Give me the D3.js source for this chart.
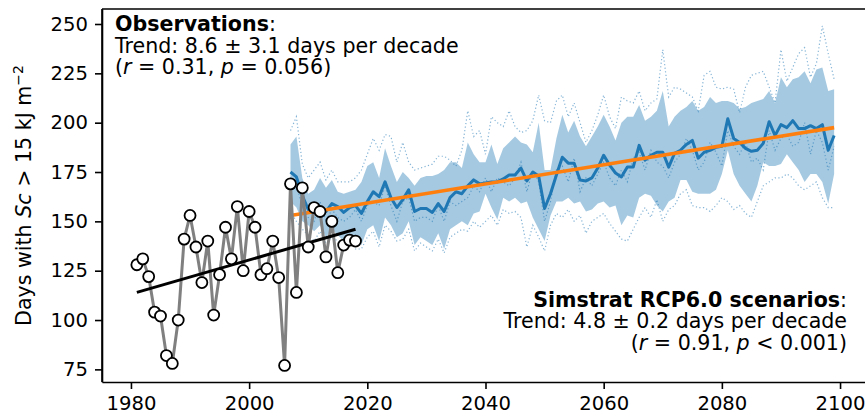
<!DOCTYPE html>
<head>
<meta charset="utf-8">
<script src="https://cdn.jsdelivr.net/npm/d3@7/dist/d3.min.js"></script>
<style>
body { margin: 0; background: #fff; }
svg { font-family: "DejaVu Sans", sans-serif; }
.axis path, .axis line { stroke: #000; stroke-width: 1.6; fill: none; }
.axis text { font-size: 19.6px; fill: #000; font-family: "DejaVu Sans", sans-serif; }
.note { font-size: 20.6px; fill: #000; }
</style>
</head>
<body>
<div id="chart"></div>
<script>

// observations (1981-2018)
var obsYears = d3.range(1981, 2019);
var obsDays = [128, 131, 122, 104, 102, 82, 78, 100, 141, 153,
               137, 119, 140, 102.5, 123, 147, 131, 157.5, 125, 155,
               147, 123, 126, 140, 121.5, 77, 169, 114, 167, 137,
               157, 155, 132, 150, 124, 138, 140.5, 140];
var obsTrend = [[1981, 114], [2018, 146]];

// Simstrat RCP6.0 scenarios (2007-2099)
var simYears = d3.range(2007, 2100);
var simMean = [175, 172.5, 163, 156, 155, 156, 155, 159, 157.5, 154.5, 157, 158, 154, 160, 165, 162.5, 170, 162, 157, 161,
               166, 155, 156.5, 156.5, 154.5, 159, 155, 162, 165, 164, 168, 171, 169,
               169.5, 170, 170, 171.5, 173.5, 173.5, 177, 170.5, 175, 173, 156.5, 164, 173.5, 182.5, 179.5, 179.5, 171, 170.5,
               172, 177, 183.5, 178.5, 174.5, 172.5, 177.5, 177.5, 188.5, 181, 183.5, 185, 185, 177.5,
               184.5, 186, 189, 191, 182, 185, 186, 187.5, 188, 202, 192, 190, 187, 185.5, 186, 189.5, 200.5, 193.5,
               199, 197.5, 201, 197, 197, 198.5, 197, 199, 186, 193.5];
var simUpper = [189, 193, 172, 164, 166, 172, 167, 171, 165, 164, 165, 166, 170, 178, 180, 172, 187, 178, 170, 175,
                172, 168, 172, 173, 173, 174, 176, 180, 180, 177, 190, 184, 180,
                180, 189, 179, 187, 190, 193, 190, 189, 185, 200, 176, 176, 192, 204, 195, 201, 193, 188,
                193, 198, 204, 198, 191, 200, 203, 203, 209, 201, 203, 206, 216, 198,
                203, 206, 208, 211, 206, 208, 213, 210, 211, 211, 210, 207, 208, 210, 211, 212, 216, 210,
                223, 218, 222, 223, 226, 220, 227, 228, 216, 217];
var simLower = [160, 157, 150, 148, 145, 148, 142, 146, 143, 140, 143, 140, 138, 146, 148, 140, 152, 148, 142, 144,
                150, 138, 142, 140, 138, 144, 136, 146, 148, 150, 148, 154, 155,
                164, 157, 151, 162, 160, 162, 159, 160, 152, 146, 140, 153, 160, 160, 162, 159, 160, 155,
                156, 159, 160, 157, 158, 148, 153, 152, 162, 164, 163, 158, 155, 160,
                162, 171, 171, 165, 164, 164, 164, 166, 174, 186, 174, 168, 164, 160, 168, 180, 178, 178,
                179, 184, 180, 176, 170, 174, 174, 170, 159, 174];
var simTrend = [[2007, 153], [2099, 197.5]];

// single members, dotted
var memberHigh = [196, 203, 179, 172, 176, 180, 171, 176, 170, 170, 170, 172, 176, 184, 192, 186, 194, 193, 180, 190,
                  180, 176, 177, 178, 179, 183, 183, 181, 178, 186, 206, 193, 196,
                  184, 203, 200, 198, 206, 198, 195, 196, 201, 214, 201, 200, 211, 214, 203, 210, 200, 190,
                  196, 204, 214, 203, 197, 213, 211, 210, 216, 206, 210, 212, 237, 213,
                  218, 217, 215, 213, 206, 224, 226, 218, 217, 218, 217, 205, 218, 224, 225, 226, 218, 210,
                  237, 221, 228, 235, 238, 223, 230, 249, 235, 222];
var memberLow = [155, 150, 146, 143, 140, 145, 139, 142, 140, 137, 140, 136, 136, 142, 145, 137, 148, 145, 140, 141,
                 146, 135, 139, 137, 135, 141, 134, 142, 144, 146, 145, 150, 147,
                 150, 153, 148, 156, 154, 155, 152, 137, 148, 142, 135, 148, 154, 152, 156, 150, 153, 144,
                 150, 152, 154, 149, 145, 141, 140, 146, 152, 157, 152, 161, 150, 156,
                 158, 164, 166, 158, 157, 157, 155, 158, 162, 160, 156, 158, 154, 152, 160, 168, 170, 172,
                 172, 174, 172, 168, 166, 168, 170, 162, 157, 157];
var memberMid = [172, 168, 158, 152, 150, 160, 150, 156, 152, 150, 152, 156, 150, 158,
                 160, 158, 168, 158, 150, 160, 162, 150, 152, 152, 150, 158, 150, 160, 158, 160, 162, 168, 165, 172,
                 165, 172, 170, 168, 172, 180, 165, 176, 170, 150, 160, 176, 178, 170, 182, 165, 172, 168, 174, 180,
                 172, 168, 176, 170, 182, 185, 176, 186, 180, 178, 172, 180, 184, 192, 186, 176, 180, 190, 185, 178,
                 196, 188, 184, 190, 180, 182, 176, 196, 186, 192, 194, 188, 190, 200, 184, 196, 190, 176, 188];

var xTicks = [1980, 2000, 2020, 2040, 2060, 2080, 2100];
var yTicks = [75, 100, 125, 150, 175, 200, 225, 250];

var W = 865, H = 418;
var plotLeft = 102, plotTop = 9, plotBottom = 382, plotRight = 869;

var x = d3.scaleLinear().domain([1975.1, 2104.9]).range([plotLeft, plotRight]);
var y = d3.scaleLinear().domain([68.6, 257.6]).range([plotBottom, plotTop]);

var svg = d3.select("#chart").append("svg")
    .attr("width", W)
    .attr("height", H);

var blue = "#1f77b4";

// band (mean +/- spread)
var sim = simYears.map(function(yr, i) {
  return {yr: yr, mean: simMean[i], lo: simLower[i], hi: simUpper[i]};
});

svg.append("path")
    .datum(sim)
    .attr("fill", blue)
    .attr("fill-opacity", 0.4)
    .attr("d", d3.area()
        .x(function(d) { return x(d.yr); })
        .y0(function(d) { return y(d.lo); })
        .y1(function(d) { return y(d.hi); }));

// dotted members
[memberHigh, memberLow, memberMid].forEach(function(m) {
  svg.append("path")
      .datum(m)
      .attr("fill", "none")
      .attr("stroke", blue)
      .attr("stroke-opacity", 0.55)
      .attr("stroke-width", 1.2)
      .attr("stroke-dasharray", "1.2,2.4")
      .attr("d", d3.line()
          .x(function(d, i) { return x(simYears[i]); })
          .y(function(d) { return y(d); }));
});

// mean
svg.append("path")
    .datum(sim)
    .attr("fill", "none")
    .attr("stroke", blue)
    .attr("stroke-width", 3)
    .attr("stroke-linejoin", "round")
    .attr("d", d3.line()
        .x(function(d) { return x(d.yr); })
        .y(function(d) { return y(d.mean); }));

// scenario trend
svg.append("path")
    .datum(simTrend)
    .attr("fill", "none")
    .attr("stroke", "#ff7f0e")
    .attr("stroke-width", 3.6)
    .attr("d", d3.line()
        .x(function(d) { return x(d[0]); })
        .y(function(d) { return y(d[1]); }));

// observations line
var obs = obsYears.map(function(yr, i) { return {yr: yr, v: obsDays[i]}; });

svg.append("path")
    .datum(obs)
    .attr("fill", "none")
    .attr("stroke", "#808080")
    .attr("stroke-width", 3)
    .attr("stroke-linejoin", "round")
    .attr("d", d3.line()
        .x(function(d) { return x(d.yr); })
        .y(function(d) { return y(d.v); }));

// observed trend
svg.append("path")
    .datum(obsTrend)
    .attr("fill", "none")
    .attr("stroke", "#000")
    .attr("stroke-width", 3)
    .attr("d", d3.line()
        .x(function(d) { return x(d[0]); })
        .y(function(d) { return y(d[1]); }));

svg.selectAll(".obs")
    .data(obs)
  .enter().append("circle")
    .attr("class", "obs")
    .attr("cx", function(d) { return x(d.yr); })
    .attr("cy", function(d) { return y(d.v); })
    .attr("r", 5.5)
    .attr("fill", "#fff")
    .attr("stroke", "#000")
    .attr("stroke-width", 1.8);

// axes
svg.append("g")
    .attr("class", "axis")
    .attr("transform", "translate(0," + plotBottom + ")")
    .call(d3.axisBottom(x).tickValues(xTicks).tickFormat(d3.format("d"))
        .tickSize(7).tickPadding(7).tickSizeOuter(0));

svg.append("g")
    .attr("class", "axis")
    .attr("transform", "translate(" + plotLeft + ",0)")
    .call(d3.axisLeft(y).tickValues(yTicks).tickFormat(d3.format("d"))
        .tickSize(7).tickPadding(7).tickSizeOuter(0));

// frame: top and left spines
svg.append("line")
    .attr("x1", plotLeft).attr("x2", plotRight)
    .attr("y1", plotTop).attr("y2", plotTop)
    .attr("stroke", "#000").attr("stroke-width", 1.6);
svg.append("line")
    .attr("x1", plotLeft).attr("x2", plotLeft)
    .attr("y1", plotTop).attr("y2", plotBottom)
    .attr("stroke", "#000").attr("stroke-width", 1.6);

// y label
var yl = svg.append("text")
    .attr("class", "note")
    .attr("transform", "translate(31," + ((plotTop + plotBottom) / 2) + ") rotate(-90)")
    .attr("text-anchor", "middle");
yl.append("tspan").text("Days with ");
yl.append("tspan").attr("font-style", "italic").text("Sc");
yl.append("tspan").text(" > 15 kJ m");
yl.append("tspan").attr("font-size", "14px").attr("dy", -8).text("\u22122");

// observations note
var t1 = svg.append("text").attr("class", "note").attr("x", 115).attr("y", 31);
t1.append("tspan").attr("font-weight", "bold").text("Observations");
t1.append("tspan").text(":");
svg.append("text").attr("class", "note").attr("x", 115).attr("y", 52.7)
    .text("Trend: 8.6 \u00b1 3.1 days per decade");
var t3 = svg.append("text").attr("class", "note").attr("x", 115).attr("y", 74.3);
t3.append("tspan").text("(");
t3.append("tspan").attr("font-style", "italic").text("r");
t3.append("tspan").text(" = 0.31, ");
t3.append("tspan").attr("font-style", "italic").text("p");
t3.append("tspan").text(" = 0.056)");

// scenarios note
var s1 = svg.append("text").attr("class", "note").attr("x", 847).attr("y", 306.7)
    .attr("text-anchor", "end");
s1.append("tspan").attr("font-weight", "bold").text("Simstrat RCP6.0 scenarios");
s1.append("tspan").text(":");
svg.append("text").attr("class", "note").attr("x", 847).attr("y", 328.3)
    .attr("text-anchor", "end")
    .text("Trend: 4.8 \u00b1 0.2 days per decade");
var s3 = svg.append("text").attr("class", "note").attr("x", 847).attr("y", 350)
    .attr("text-anchor", "end");
s3.append("tspan").text("(");
s3.append("tspan").attr("font-style", "italic").text("r");
s3.append("tspan").text(" = 0.91, ");
s3.append("tspan").attr("font-style", "italic").text("p");
s3.append("tspan").text(" < 0.001)");

</script>
</body>
